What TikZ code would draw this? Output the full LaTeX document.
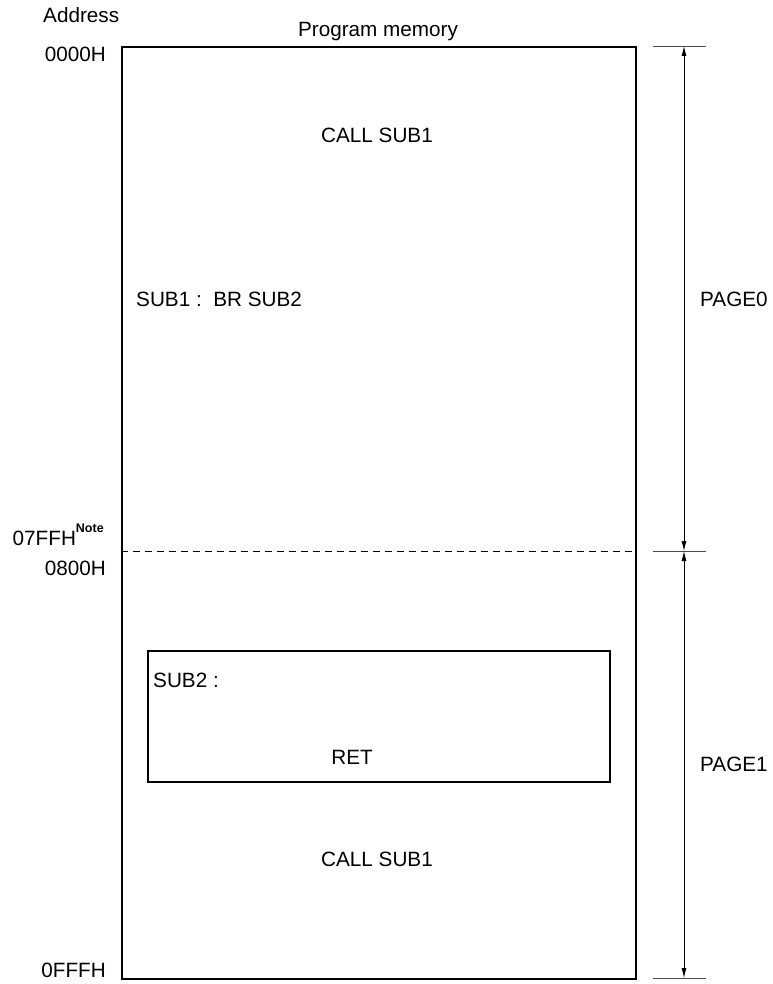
\documentclass[tikz,border=0pt]{standalone}
\usepackage{fontspec}
\setmainfont{Liberation Sans}
\usetikzlibrary{arrows.meta}
\begin{document}
\begin{tikzpicture}[x=1pt,y=-1pt,
  lbl/.style={font=\fontsize{20.7}{24}\selectfont,inner sep=0pt},
  thick box/.style={draw,line width=2pt},
  dim/.style={line width=0.8pt,{Latex[length=10pt,width=5pt]}-{Latex[length=10pt,width=5pt]}},
  tick/.style={line width=0.8pt,draw=black!70}]
\useasboundingbox (0,0) rectangle (772,984);
% main memory box
\node[thick box,minimum width=514pt,minimum height=932pt,inner sep=0pt,anchor=north west] (mem) at (121,46) {};
\node[thick box,line width=1.6pt,minimum width=462pt,minimum height=131pt,inner sep=0pt,anchor=north west] (sub2box) at (147,650) {};
% dashed boundary
\coordinate (dl) at (121,551);
\coordinate (dr) at (635,551);
\draw[dashed,line width=0.8pt,dash pattern=on 7pt off 5pt] (dl) -- (dr);
% texts
\node[lbl,anchor=base west] (addr) at (43,23) {Address};
\node[lbl,anchor=base] (pm) at (378,37) {Program memory};
\node[lbl,anchor=base east] (a0) at (106,62) {0000H};
\node[lbl,anchor=base west] (a1) at (12.5,545) {07FFH\raisebox{13pt}{\textbf{\fontsize{12.5}{14}\selectfont Note}}};
\node[lbl,anchor=base east] (a2) at (106,575) {0800H};
\node[lbl,anchor=base east] (a3) at (106,977) {0FFFH};
\node[lbl,anchor=base] (c1) at (377,143) {CALL SUB1};
\node[lbl,anchor=base west] (s1) at (136,306) {SUB1 :\ \ BR SUB2};
\node[lbl,anchor=base west] (s2) at (153,687) {SUB2 :};
\node[lbl,anchor=base] (ret) at (352,764) {RET};
\node[lbl,anchor=base] (c2) at (377,866) {CALL SUB1};
\node[lbl,anchor=base west] (p0) at (700,306) {PAGE0};
\node[lbl,anchor=base west] (p1) at (700,771) {PAGE1};
% right dimension marks
\coordinate (t0l) at (653,46);  \coordinate (t0r) at (706,46);
\coordinate (t1l) at (653,551); \coordinate (t1r) at (706,551);
\coordinate (t2l) at (653,978); \coordinate (t2r) at (706,978);
\coordinate (v0) at (684,46); \coordinate (v1) at (684,551); \coordinate (v2) at (684,978);
\draw[tick] (t0l) -- (t0r);
\draw[tick] (t1l) -- (t1r);
\draw[tick] (t2l) -- (t2r);
\draw[dim] (v0) -- (v1);
\draw[dim] (v1) -- (v2);
\end{tikzpicture}
\end{document}
